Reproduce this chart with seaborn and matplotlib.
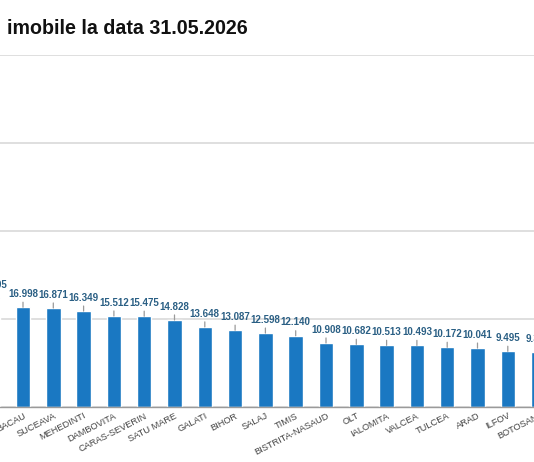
import matplotlib
matplotlib.use("Agg")
import matplotlib.pyplot as plt
import seaborn as sns
import pandas as pd

categories = ["NEAMT", "BACAU", "SUCEAVA", "MEHEDINTI", "DAMBOVITA", "CARAS-SEVERIN",
              "SATU MARE", "GALATI", "BIHOR", "SALAJ", "TIMIS", "BISTRITA-NASAUD",
              "OLT", "IALOMITA", "VALCEA", "TULCEA", "ARAD", "ILFOV", "BOTOSANI"]
values = [18605, 16998, 16871, 16349, 15512, 15475, 14828, 13648, 13087, 12598,
          12140, 10908, 10682, 10513, 10493, 10172, 10041, 9495, 9312]
title_text = "imobile la data 31.05.2026"
y_ticks = [0, 15000, 30000, 45000, 60000]

df = pd.DataFrame({"judet": categories, "imobile": values})

sns.set_theme(style="white")
plt.rcParams["font.family"] = ["Liberation Sans", "DejaVu Sans"]

W, H = 534, 462
fig = plt.figure(figsize=(W / 100, H / 100), dpi=100)
fig.patch.set_facecolor("white")

base_px = 407
top_px = 55
left_px, right_px = -40, 574
ax = fig.add_axes([left_px / W, (H - base_px) / H,
                   (right_px - left_px) / W, (base_px - top_px) / H])

bar_color = "#1a78c2"
sns.barplot(data=df, x="judet", y="imobile", color=bar_color, saturation=1,
            width=0.48, ax=ax)

step = 30.3
first_center = -7.3
ax.set_xlim((left_px - first_center) / step, (right_px - first_center) / step)
ax.set_ylim(0, 60000)
ax.set_yticks(y_ticks)
ax.set_yticklabels([])
ax.tick_params(axis="y", length=0)
ax.yaxis.grid(True, color="#dcdcdc", linewidth=1.3)
ax.set_axisbelow(True)
for s in ["top", "left", "right"]:
    ax.spines[s].set_visible(False)
ax.spines["bottom"].set_color("#9a9a9a")
ax.spines["bottom"].set_linewidth(1.0)
ax.set_xlabel("")
ax.set_ylabel("")

ax.tick_params(axis="x", length=0, pad=3)
for lab in ax.get_xticklabels():
    lab.set_rotation(27)
    lab.set_ha("right")
    lab.set_va("top")
    lab.set_rotation_mode("anchor")
    lab.set_fontsize(6.7)
    lab.set_color("#444444")

def fmt(v):
    return f"{v:,}".replace(",", ".")

for i, v in enumerate(values):
    ax.annotate(fmt(v), xy=(i, v), xytext=(0, 6), textcoords="offset points",
                ha="center", va="bottom", fontsize=7.0, fontweight="bold",
                color="#2a5f84", annotation_clip=False,
                arrowprops=dict(arrowstyle="-", color="#9a9a9a", lw=0.9,
                                shrinkA=0, shrinkB=0))

fig.text(7 / W, 1 - 28 / H, title_text, fontsize=14.1, fontweight="bold",
         color="#111111", ha="left", va="center")

fig.savefig("out.png", dpi=100, facecolor="white")
